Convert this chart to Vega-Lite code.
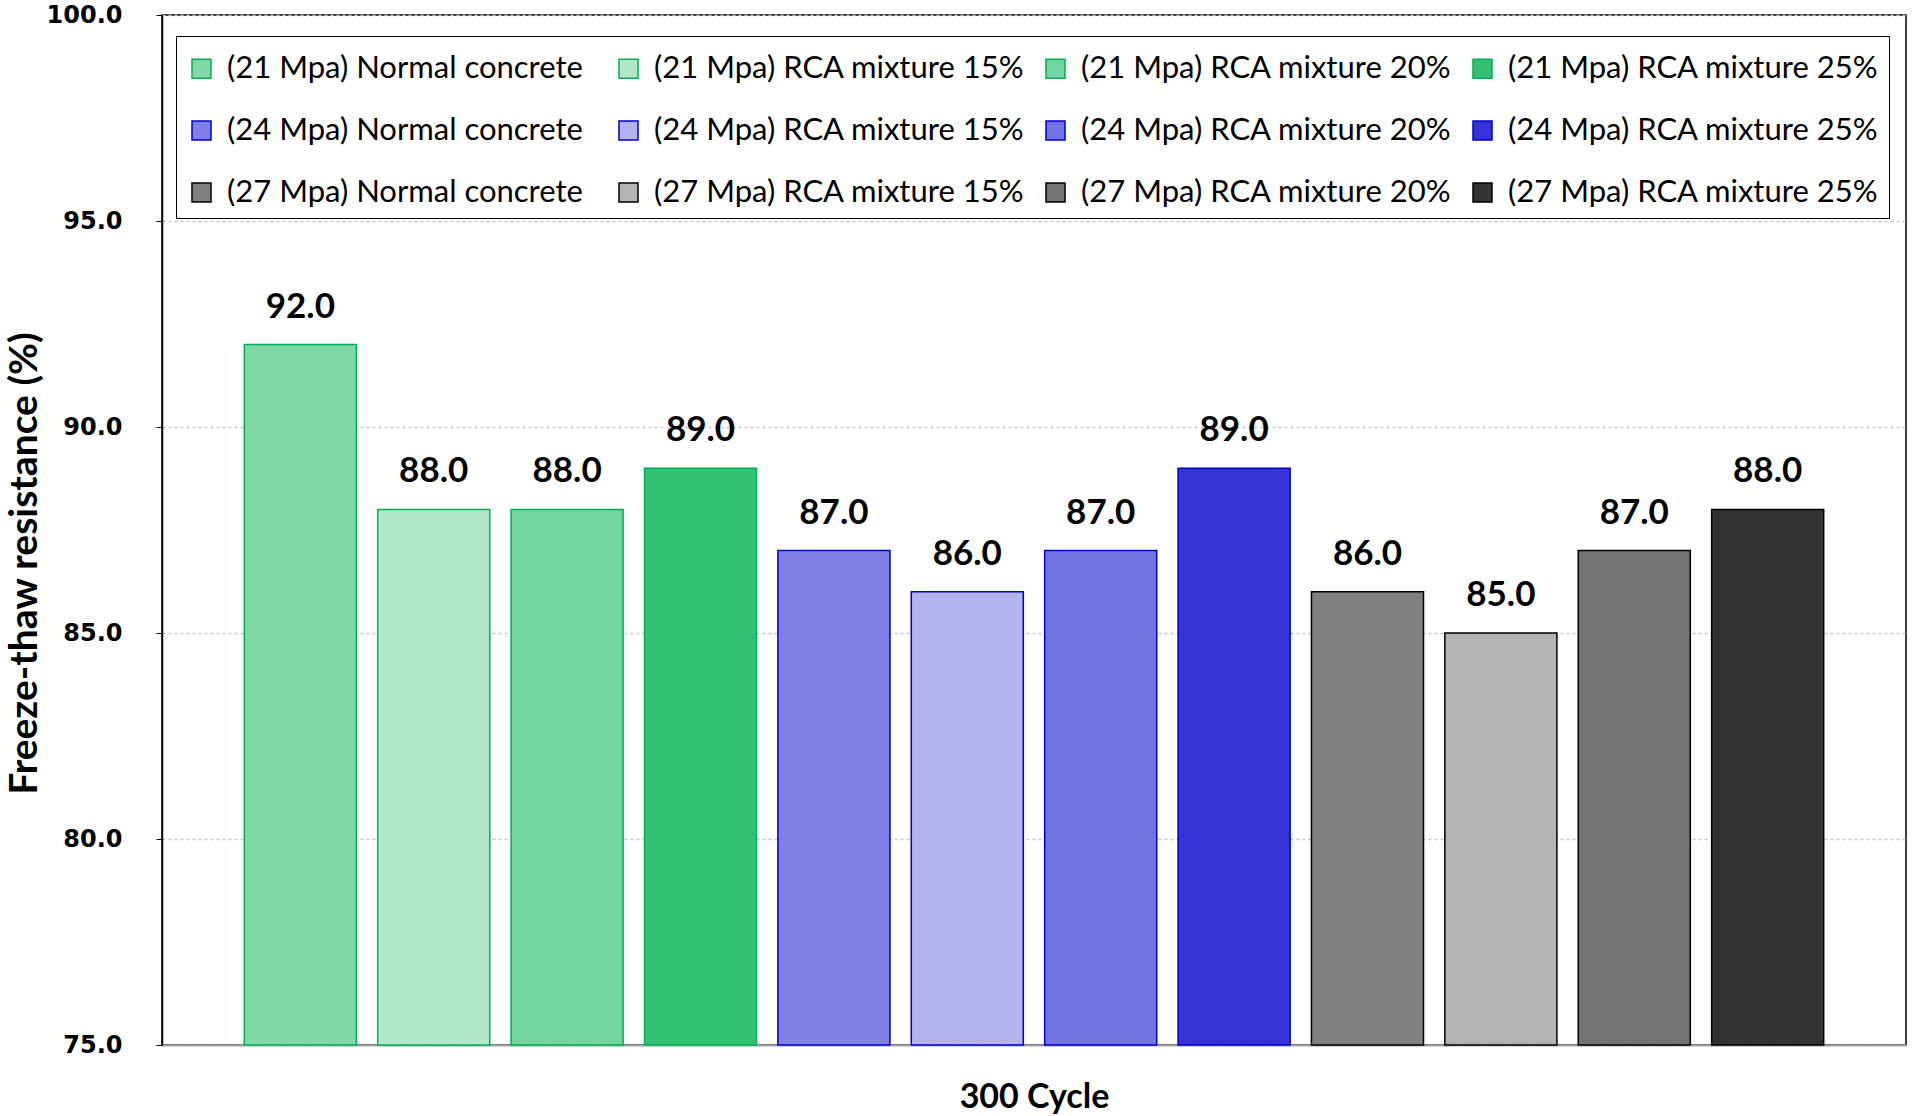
{
  "$schema": "https://vega.github.io/schema/vega-lite/v6.json",
  "description": "Freeze-thaw resistance after 300 cycles",
  "autosize": {"type": "none"},
  "width": 1744,
  "height": 1030,
  "padding": {"left": 162, "top": 15, "right": 6, "bottom": 71},
  "background": "white",
  "data": {
    "values": [
      {"series": "(21 Mpa) Normal concrete", "value": 92},
      {"series": "(21 Mpa) RCA mixture 15%", "value": 88},
      {"series": "(21 Mpa) RCA mixture 20%", "value": 88},
      {"series": "(21 Mpa) RCA mixture 25%", "value": 89},
      {"series": "(24 Mpa) Normal concrete", "value": 87},
      {"series": "(24 Mpa) RCA mixture 15%", "value": 86},
      {"series": "(24 Mpa) RCA mixture 20%", "value": 87},
      {"series": "(24 Mpa) RCA mixture 25%", "value": 89},
      {"series": "(27 Mpa) Normal concrete", "value": 86},
      {"series": "(27 Mpa) RCA mixture 15%", "value": 85},
      {"series": "(27 Mpa) RCA mixture 20%", "value": 87},
      {"series": "(27 Mpa) RCA mixture 25%", "value": 88}
    ]
  },
  "encoding": {
    "x": {
      "field": "series",
      "type": "nominal",
      "sort": null,
      "scale": {"paddingInner": 0.16, "paddingOuter": 0.617},
      "axis": {
        "title": "300 Cycle",
        "labels": false,
        "ticks": false,
        "domainColor": "#a6a6a6",
        "domainWidth": 2,
        "titleFont": "Lato",
        "titleFontSize": 34,
        "titleFontWeight": "bold",
        "titleColor": "black",
        "titlePadding": 35
      }
    },
    "y": {
      "field": "value",
      "type": "quantitative",
      "scale": {"domain": [75, 100], "nice": false, "zero": false},
      "axis": {
        "title": "Freeze-thaw resistance (%)",
        "values": [75, 80, 85, 90, 95, 100],
        "format": ".1f",
        "labelFont": "DejaVu Sans",
        "labelFontWeight": "bold",
        "labelFontSize": 24,
        "labelColor": "black",
        "labelPadding": 34,
        "tickSize": 6,
        "tickColor": "black",
        "domainColor": "black",
        "domainWidth": 1.5,
        "gridColor": "#c8c8c8",
        "gridDash": [3, 3],
        "gridWidth": 1.5,
        "titleFont": "Lato",
        "titleFontSize": 39,
        "titleFontWeight": "bold",
        "titleColor": "black",
        "titlePadding": 2,
        "titleY": 548
      }
    }
  },
  "layer": [
    {
      "mark": {"type": "bar", "strokeWidth": 1.5},
      "encoding": {
        "y2": {"datum": 75},
        "fill": {
          "field": "series",
          "type": "nominal",
          "scale": {
            "domain": [
              "(21 Mpa) Normal concrete", "(21 Mpa) RCA mixture 15%", "(21 Mpa) RCA mixture 20%", "(21 Mpa) RCA mixture 25%",
              "(24 Mpa) Normal concrete", "(24 Mpa) RCA mixture 15%", "(24 Mpa) RCA mixture 20%", "(24 Mpa) RCA mixture 25%",
              "(27 Mpa) Normal concrete", "(27 Mpa) RCA mixture 15%", "(27 Mpa) RCA mixture 20%", "(27 Mpa) RCA mixture 25%"
            ],
            "range": [
              "#80D8A8", "#B3E7CA", "#73D49F", "#33C073",
              "#8080E6", "#B3B3F0", "#7373E4", "#3333D6",
              "#808080", "#B3B3B3", "#737373", "#333333"
            ]
          },
          "legend": {
            "title": " ",
            "titleFontSize": 2,
            "titlePadding": 5,
            "orient": "none",
            "direction": "horizontal",
            "legendX": 14,
            "legendY": 21,
            "columns": 4,
            "gridAlign": "all",
            "columnPadding": 15,
            "rowPadding": 30,
            "padding": 10,
            "strokeColor": "black",
            "fillColor": "white",
            "symbolType": "square",
            "symbolSize": 361,
            "symbolStrokeWidth": 1.5,
            "labelFont": "Lato",
            "labelFontSize": 31,
            "labelColor": "black",
            "labelOffset": 10,
            "labelLimit": 500
          }
        },
        "stroke": {
          "field": "series",
          "type": "nominal",
          "scale": {
            "domain": [
              "(21 Mpa) Normal concrete", "(21 Mpa) RCA mixture 15%", "(21 Mpa) RCA mixture 20%", "(21 Mpa) RCA mixture 25%",
              "(24 Mpa) Normal concrete", "(24 Mpa) RCA mixture 15%", "(24 Mpa) RCA mixture 20%", "(24 Mpa) RCA mixture 25%",
              "(27 Mpa) Normal concrete", "(27 Mpa) RCA mixture 15%", "(27 Mpa) RCA mixture 20%", "(27 Mpa) RCA mixture 25%"
            ],
            "range": [
              "#00B050", "#00B050", "#00B050", "#00B050",
              "#0000CC", "#0000CC", "#0000CC", "#0000CC",
              "#000000", "#000000", "#000000", "#000000"
            ]
          },
          "legend": {
            "title": " ",
            "titleFontSize": 2,
            "titlePadding": 5,
            "orient": "none",
            "direction": "horizontal",
            "legendX": 14,
            "legendY": 21,
            "columns": 4,
            "gridAlign": "all",
            "columnPadding": 15,
            "rowPadding": 30,
            "padding": 10,
            "strokeColor": "black",
            "fillColor": "white",
            "symbolType": "square",
            "symbolSize": 361,
            "symbolStrokeWidth": 1.5,
            "labelFont": "Lato",
            "labelFontSize": 31,
            "labelColor": "black",
            "labelOffset": 10,
            "labelLimit": 500
          }
        }
      }
    },
    {
      "mark": {
        "type": "text",
        "baseline": "bottom",
        "dy": -20,
        "font": "Lato",
        "fontSize": 35,
        "fontWeight": "bold",
        "color": "black"
      },
      "encoding": {
        "text": {"field": "value", "type": "quantitative", "format": ".1f"}
      }
    }
  ],
  "config": {
    "view": {"stroke": "black", "strokeWidth": 1.5}
  }
}
